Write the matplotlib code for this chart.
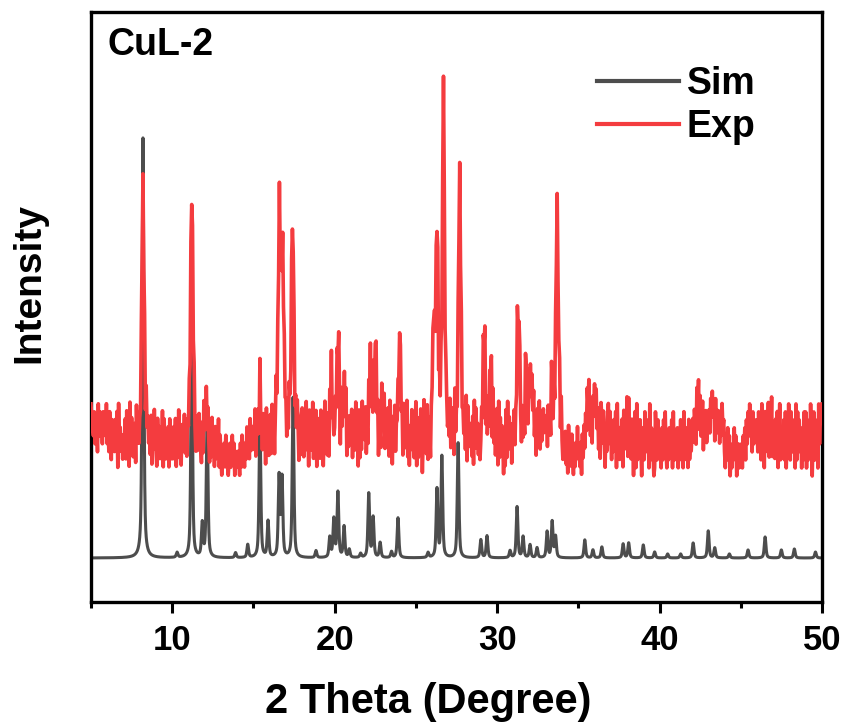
import numpy as np
import matplotlib.pyplot as plt
from matplotlib.lines import Line2D

plt.rcParams["font.family"] = ["Liberation Sans", "DejaVu Sans"]
plt.rcParams["font.weight"] = "bold"

# =========================================================
# Data (intensity in arbitrary units)
# =========================================================
# simulated pattern: peak positions (2theta) and heights
sim_pos = [8.2, 10.3, 11.2, 11.85, 12.15, 13.9, 14.65, 15.4, 15.9, 16.58,
           16.76, 17.44, 18.85, 19.7, 19.95, 20.2, 20.58, 20.9, 21.6, 22.1,
           22.37, 22.8, 23.5, 23.9, 25.75, 26.3, 26.6, 27.6, 29.0, 29.38,
           30.8, 31.23, 31.6, 32.03, 32.46, 33.08, 33.39, 33.6, 35.4, 35.9,
           36.45, 37.76, 38.1, 39.0, 39.7, 40.5, 41.3, 42.07, 43.0, 43.4,
           44.3, 45.45, 46.5, 47.5, 48.3, 49.6]
sim_int = [420, 5, 230, 33, 140, 5, 13, 140, 36, 80,
           78, 160, 7, 20, 38, 65, 31, 8, 4, 64,
           40, 15, 6, 40, 5, 68, 101, 115, 18, 22,
           7, 51, 21, 13, 10, 26, 36, 21, 18, 8,
           11, 14, 15, 13, 6, 4, 4, 15, 27, 10,
           4, 8, 21, 8, 9, 6]

# experimental pattern: peak positions and heights above background
exp_pos = [8.2, 11.2, 12.1, 15.4, 16.6, 16.8, 17.4, 19.8, 20.2, 20.6,
           22.2, 22.5, 23.0, 24.0, 26.1, 26.3, 26.7, 27.7, 29.2, 29.6,
           31.3, 31.8, 32.1, 33.4, 33.7, 35.6, 36.0, 38.0, 42.4, 43.3, 46.9]
exp_int = [262, 255, 48, 44, 226, 178, 227, 50, 101, 53,
           72, 88, 42, 118, 110, 192, 328, 263, 98, 70,
           137, 70, 55, 45, 232, 30, 35, 15, 40, 27, 15]

# background noise of the experimental scan, one digit per 0.05 deg (5 .. 50)
exp_noise = "".join([
    "97658476395867486759", "46385274637581946352", "53728461937524618362",
    "42635172846352716384", "31746253817425361742", "52637143825164372615",
    "36152748316257431628", "41526314273516243715", "20314251302413524031",
    "13204152314263527364", "53827461935274618352", "47283615947261835274",
    "62738415269374851627", "85274936185739264817", "36284715936271849253",
    "47362851947362815374", "68275394618273956482", "52837164925837164293",
    "46175382947163825461", "35261847392516384725", "91726385049372816405",
    "46352748163725841653", "53826471935284617253", "72918364527193846251",
    "36284917352648193726", "81927364051829374615", "47253816942735184627",
    "68375947268593746857", "57384629517384625938", "31425130624152031426",
    "23140526374859647385", "74958362974851637948", "52637481935264718352",
    "81936274058192637405", "62847351926430185274", "35162748315264371825",
    "42615372418362517243", "57486395728469375846", "78596847395868475967",
    "31426250314263502413", "24153627485967384756", "73856294718365927481",
    "46273815924637281539", "52837461928374615283", "81726394058273619478",
    "9",
])

sim_offset = 44
exp_offset = 162


def profile(x, pos, amp, fwhm, eta=0.6):
    out = np.zeros_like(x)
    for p, a in zip(pos, amp):
        d = (x - p) / (fwhm / 2)
        out += a * (eta / (1 + d ** 2) + (1 - eta) * np.exp(-np.log(2) * d ** 2))
    return out


x_sim = np.linspace(5, 50, 4501)
y_sim = profile(x_sim, sim_pos, sim_int, 0.12) + sim_offset

x_exp = np.linspace(5, 50, len(exp_noise))
noise = (np.array([int(c) for c in exp_noise]) - 4.5) * 8
y_exp = profile(x_exp, exp_pos, exp_int, 0.17) + noise + exp_offset

# =========================================================
# Plot
# =========================================================
fig = plt.figure(figsize=(8.48, 7.27), dpi=100)
ax = fig.add_axes([0.1073, 0.1719, 0.862, 0.8116])

ax.plot(x_sim, y_sim, color="#4d4d4d", linewidth=2.2, label="Sim", zorder=2)
ax.plot(x_exp, y_exp, color="#f43c3f", linewidth=2.6, label="Exp", zorder=3)

ax.set_xlim(5, 50)
ax.set_ylim(0, 590)
ax.set_yticks([])
ax.set_xticks([10, 20, 30, 40, 50])
ax.set_xticks([5, 15, 25, 35, 45], minor=True)
ax.tick_params(axis="x", which="major", direction="out", length=8, width=2.2,
               labelsize=25, pad=8)
ax.tick_params(axis="x", which="minor", direction="out", length=4, width=2.2)
for lab in ax.get_xticklabels():
    lab.set_fontweight("bold")
for s in ax.spines.values():
    s.set_linewidth(2.4)

ax.set_xlabel("2 Theta (Degree)", fontsize=30, fontweight="bold")
ax.xaxis.set_label_coords(0.461, -0.136)
ax.set_ylabel("Intensity", fontsize=28, fontweight="bold")
ax.yaxis.set_label_coords(-0.06, 0.54)

ax.text(0.022, 0.975, "CuL-2", transform=ax.transAxes, ha="left", va="top",
        fontsize=27, fontweight="bold")

handles = [Line2D([0], [0], color="#4d4d4d", linewidth=3),
           Line2D([0], [0], color="#f43c3f", linewidth=3)]
leg = ax.legend(handles, ["Sim", "Exp"], loc="upper left",
                bbox_to_anchor=(0.646, 0.966), frameon=False, fontsize=27,
                handlelength=2.2, handletextpad=0.2, labelspacing=0.2)
for t in leg.get_texts():
    t.set_fontweight("bold")

plt.savefig("out.png", dpi=100)
